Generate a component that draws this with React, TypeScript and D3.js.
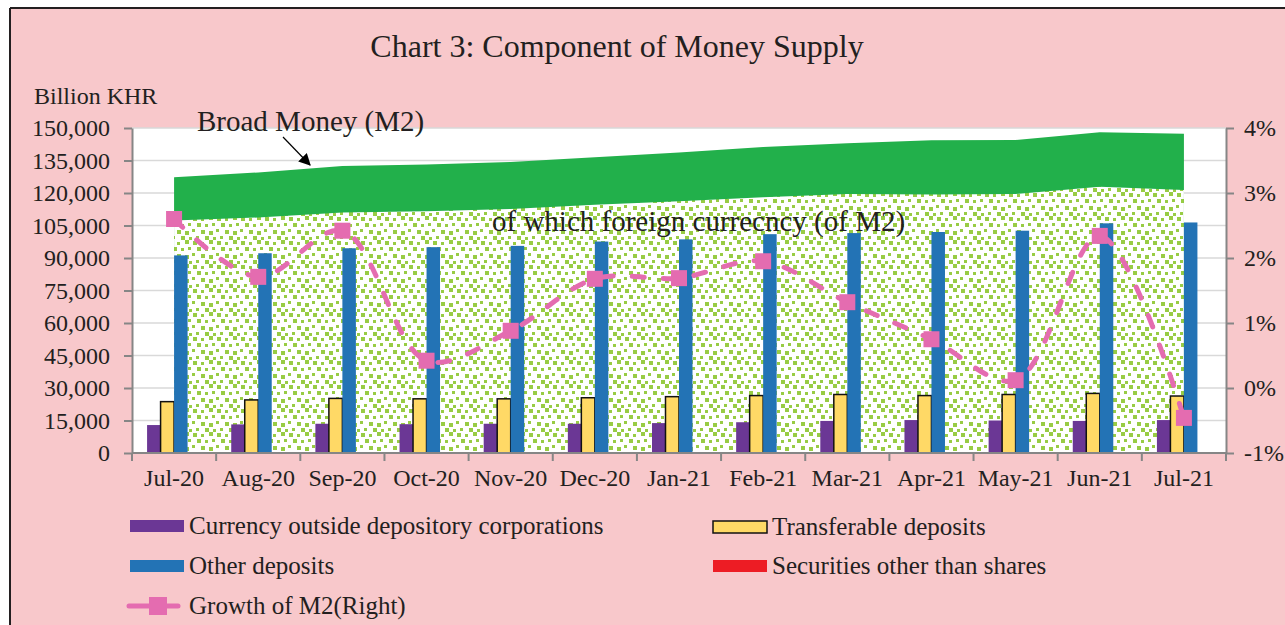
import * as d3 from "d3";
import { useEffect, useRef } from "react";

const months = ["Jul-20", "Aug-20", "Sep-20", "Oct-20", "Nov-20", "Dec-20", "Jan-21", "Feb-21", "Mar-21", "Apr-21", "May-21", "Jun-21", "Jul-21"];

// billion KHR
const currencyOutside = [12900, 13200, 13500, 13300, 13500, 13500, 13800, 14200, 14800, 15200, 15000, 14800, 15200];
const transferable = [23700, 24500, 25200, 25000, 25000, 25500, 26000, 26500, 27000, 26500, 27000, 27500, 26300];
const otherDeposits = [91200, 92200, 94500, 95000, 95600, 97600, 98600, 101000, 101500, 102000, 102600, 106000, 106400];
const securities = [0, 0, 0, 0, 0, 0, 0, 0, 0, 0, 0, 0, 0];
const broadMoney = [127300, 129500, 132500, 133200, 134300, 136500, 138700, 141200, 143000, 144400, 144500, 148000, 147300];
const foreignCurrency = [107300, 108700, 111000, 111600, 112600, 114600, 116200, 118000, 119500, 119300, 119500, 122900, 121400];

// % growth, right axis
const m2Growth = [2.6, 1.71, 2.42, 0.42, 0.88, 1.68, 1.69, 1.95, 1.32, 0.75, 0.12, 2.34, -0.46];

const leftTicks = [0, 15000, 30000, 45000, 60000, 75000, 90000, 105000, 120000, 135000, 150000];
const rightTicks = [-1, 0, 1, 2, 3, 4];

const barSeries = [
  { key: "currency", label: "Currency outside depository corporations", values: currencyOutside, fill: "#6b3795", stroke: "none" },
  { key: "transferable", label: "Transferable deposits", values: transferable, fill: "#ffd966", stroke: "#111" },
  { key: "other", label: "Other deposits", values: otherDeposits, fill: "#2373b5", stroke: "none" },
  { key: "securities", label: "Securities other than shares", values: securities, fill: "#ed1c24", stroke: "none" },
];

const FONT = "'Liberation Serif', 'Times New Roman', serif";
const TEXT = "#231f20";
const PINK = "#e46cb0";

export default function App(): JSX.Element {
  const svgRef = useRef<SVGSVGElement>(null);

  useEffect(() => {
    if (!svgRef.current) return;
    const width = 1285;
    const height = 625;
    const plot = { left: 132, right: 1226, top: 128, bottom: 453 };

    const svg = d3.select(svgRef.current);
    svg.selectAll("*").remove();
    svg.attr("width", width).attr("height", height);

    // frame
    svg.append("rect").attr("width", width).attr("height", height).attr("fill", "#fff");
    svg.append("rect").attr("x", 10).attr("y", 8).attr("width", width).attr("height", height).attr("fill", "#f8c8cb");
    svg.append("line").attr("x1", 10).attr("x2", 10).attr("y1", 8).attr("y2", height).attr("stroke", TEXT).attr("stroke-width", 2);
    svg.append("line").attr("x1", 10).attr("x2", width).attr("y1", 8).attr("y2", 8).attr("stroke", TEXT).attr("stroke-width", 2);

    const defs = svg.append("defs");
    const pat = defs
      .append("pattern")
      .attr("id", "confetti")
      .attr("patternUnits", "userSpaceOnUse")
      .attr("width", 24)
      .attr("height", 24);
    pat.append("rect").attr("width", 24).attr("height", 24).attr("fill", "#fff");
    const dots = [
      [1, 1, 4], [9, 2, 3], [17, 0, 4], [5, 7, 4], [13, 8, 3], [20, 7, 3],
      [0, 13, 3], [9, 14, 4], [17, 15, 4], [4, 20, 3], [13, 20, 4], [21, 21, 3],
    ];
    for (const [dx, dy, s] of dots) {
      pat.append("rect").attr("x", dx).attr("y", dy).attr("width", s).attr("height", s).attr("fill", "#98cc44");
    }

    svg
      .append("rect")
      .attr("x", plot.left)
      .attr("y", plot.top)
      .attr("width", plot.right - plot.left)
      .attr("height", plot.bottom - plot.top)
      .attr("fill", "#fff");

    const x = d3.scaleBand<string>().domain(months).range([plot.left, plot.right]).padding(0);
    const bw = x.bandwidth();
    const groupPad = (bw - 54) / 2;
    const x1 = d3
      .scaleBand<string>()
      .domain(barSeries.map((s) => s.key))
      .range([groupPad, bw - groupPad])
      .padding(0);
    const y = d3.scaleLinear().domain([0, 150000]).range([plot.bottom, plot.top]);
    const yR = d3.scaleLinear().domain([-1, 4]).range([plot.bottom, plot.top]);
    const cx = (m: string) => x(m)! + bw / 2;

    // gridlines
    svg
      .append("g")
      .selectAll("line")
      .data(leftTicks.filter((t) => t > 0))
      .join("line")
      .attr("x1", plot.left)
      .attr("x2", plot.right)
      .attr("y1", (d) => y(d))
      .attr("y2", (d) => y(d))
      .attr("stroke", "#d9d9d9")
      .attr("stroke-width", 1.5);

    // areas
    const area = d3
      .area<number>()
      .x((_, i) => cx(months[i]))
      .y0(y(0))
      .y1((d) => y(d));
    svg.append("path").datum(broadMoney).attr("d", area).attr("fill", "#22b04b");
    svg.append("path").datum(foreignCurrency).attr("d", area).attr("fill", "url(#confetti)");

    // bars
    for (const s of barSeries) {
      svg
        .append("g")
        .selectAll("rect")
        .data(s.values)
        .join("rect")
        .attr("x", (_, i) => x(months[i])! + x1(s.key)!)
        .attr("y", (d) => y(d))
        .attr("width", x1.bandwidth())
        .attr("height", (d) => y(0) - y(d))
        .attr("fill", s.fill)
        .attr("stroke", s.stroke)
        .attr("stroke-width", s.stroke === "none" ? 0 : 1.5);
    }

    // axes
    const axisStyle = (g: d3.Selection<SVGGElement, unknown, null, undefined>) => {
      g.select(".domain").attr("stroke", "#868686").attr("stroke-width", 2);
      g.selectAll(".tick line").attr("stroke", "#868686").attr("stroke-width", 2);
      g.selectAll("text").attr("font-family", FONT).attr("font-size", 24).attr("fill", TEXT);
    };

    svg
      .append("g")
      .attr("transform", `translate(${plot.left},0)`)
      .call(d3.axisLeft(y).tickValues(leftTicks).tickFormat(d3.format(",")).tickSize(8).tickSizeOuter(0).tickPadding(14))
      .call(axisStyle);

    svg
      .append("g")
      .attr("transform", `translate(${plot.right},0)`)
      .call(d3.axisRight(yR).tickValues(rightTicks).tickFormat((d) => `${d}%`).tickSize(8).tickSizeOuter(0).tickPadding(10))
      .call(axisStyle);

    const xAxis = svg
      .append("g")
      .attr("transform", `translate(0,${plot.bottom})`)
      .call(d3.axisBottom(x).tickSize(0).tickPadding(16))
      .call(axisStyle);
    xAxis.select(".domain").attr("d", `M${plot.left},0H${plot.right}`);

    const bounds = [...months.map((m) => x(m)!), plot.right];
    svg
      .append("g")
      .selectAll("line")
      .data(bounds)
      .join("line")
      .attr("x1", (d) => d)
      .attr("x2", (d) => d)
      .attr("y1", plot.bottom)
      .attr("y2", plot.bottom + 8)
      .attr("stroke", "#868686")
      .attr("stroke-width", 2);

    // growth line
    const line = d3
      .line<number>()
      .x((_, i) => cx(months[i]))
      .y((d) => yR(d))
      .curve(d3.curveCatmullRom.alpha(0.5));
    svg
      .append("path")
      .datum(m2Growth)
      .attr("d", line)
      .attr("fill", "none")
      .attr("stroke", PINK)
      .attr("stroke-width", 5)
      .attr("stroke-linecap", "round")
      .attr("stroke-dasharray", "12,19");

    const mk = 16;
    svg
      .append("g")
      .selectAll("rect")
      .data(m2Growth)
      .join("rect")
      .attr("x", (_, i) => cx(months[i]) - mk / 2)
      .attr("y", (d) => yR(d) - mk / 2)
      .attr("width", mk)
      .attr("height", mk)
      .attr("fill", PINK);

    // texts
    svg
      .append("text")
      .attr("x", 617)
      .attr("y", 57)
      .attr("text-anchor", "middle")
      .attr("font-family", FONT)
      .attr("font-size", 32)
      .attr("fill", TEXT)
      .text("Chart 3: Component of Money Supply");

    svg
      .append("text")
      .attr("x", 34)
      .attr("y", 104)
      .attr("font-family", FONT)
      .attr("font-size", 24)
      .attr("fill", TEXT)
      .text("Billion KHR");

    svg
      .append("text")
      .attr("x", 197)
      .attr("y", 131)
      .attr("font-family", FONT)
      .attr("font-size", 29)
      .attr("fill", TEXT)
      .text("Broad Money (M2)");

    svg
      .append("text")
      .attr("x", 492)
      .attr("y", 231)
      .attr("font-family", FONT)
      .attr("font-size", 29)
      .attr("fill", TEXT)
      .text("of which foreign currecncy (of M2)");

    defs
      .append("marker")
      .attr("id", "arrow")
      .attr("viewBox", "0 0 10 10")
      .attr("refX", 9)
      .attr("refY", 5)
      .attr("markerWidth", 12)
      .attr("markerHeight", 12)
      .attr("markerUnits", "userSpaceOnUse")
      .attr("orient", "auto")
      .append("path")
      .attr("d", "M0,0L10,5L0,10z")
      .attr("fill", "#000");
    svg
      .append("line")
      .attr("x1", 283)
      .attr("y1", 137)
      .attr("x2", 310)
      .attr("y2", 165)
      .attr("stroke", "#000")
      .attr("stroke-width", 1.2)
      .attr("marker-end", "url(#arrow)");

    // legend
    const legendItems = [
      { s: barSeries[0], lx: 130, ly: 526 },
      { s: barSeries[1], lx: 713, ly: 527 },
      { s: barSeries[2], lx: 130, ly: 566 },
      { s: barSeries[3], lx: 713, ly: 566 },
    ];
    for (const it of legendItems) {
      svg
        .append("rect")
        .attr("x", it.lx)
        .attr("y", it.ly - 6)
        .attr("width", 54)
        .attr("height", 12)
        .attr("fill", it.s.fill)
        .attr("stroke", it.s.stroke)
        .attr("stroke-width", it.s.stroke === "none" ? 0 : 1.5);
      svg
        .append("text")
        .attr("x", it.lx + 59)
        .attr("y", it.ly + 8)
        .attr("font-family", FONT)
        .attr("font-size", 25)
        .attr("fill", TEXT)
        .text(it.s.label);
    }
    const gy = 606;
    svg
      .append("line")
      .attr("x1", 129)
      .attr("x2", 178)
      .attr("y1", gy)
      .attr("y2", gy)
      .attr("stroke", PINK)
      .attr("stroke-width", 5)
      .attr("stroke-linecap", "round");
    svg
      .append("rect")
      .attr("x", 149)
      .attr("y", gy - 9)
      .attr("width", 18)
      .attr("height", 18)
      .attr("fill", PINK);
    svg
      .append("text")
      .attr("x", 189)
      .attr("y", gy + 8)
      .attr("font-family", FONT)
      .attr("font-size", 25)
      .attr("fill", TEXT)
      .text("Growth of M2(Right)");
  }, []);

  return (
    <div style={{ position: "absolute", left: 0, top: 0 }}>
      <svg ref={svgRef} style={{ display: "block" }} />
    </div>
  );
}
